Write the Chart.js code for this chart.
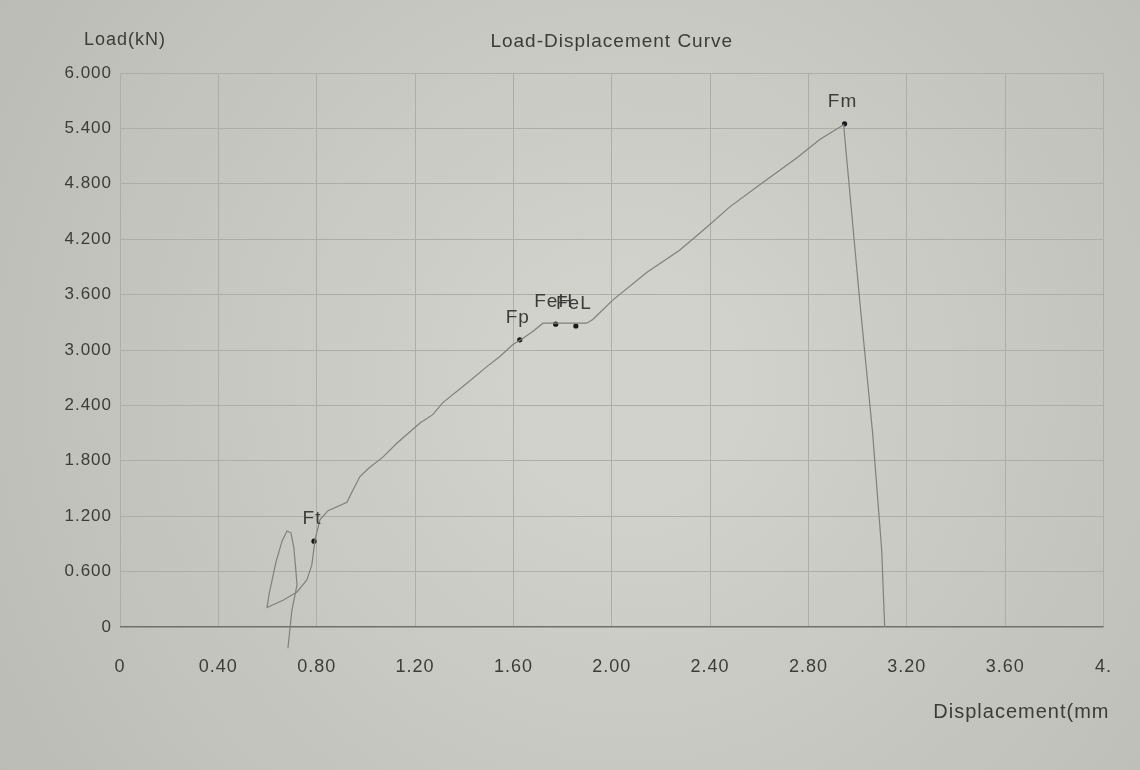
<!DOCTYPE html>
<html>
<head>
<meta charset="utf-8">
<script src="https://cdn.jsdelivr.net/npm/chart.js@4"></script>
<style>
  html, body { margin: 0; padding: 0; background: #cbccc6; }
  #wrap { width: 1140px; height: 770px; }
</style>
</head>
<body>
<div id="wrap"><canvas id="myChart" width="1140" height="770"></canvas></div>
<script>
// curve (mm, kN)
const displacement = [0.683, 0.699, 0.720, 0.715, 0.707, 0.695, 0.679, 0.659, 0.634, 0.606, 0.598, 0.663, 0.720, 0.760, 0.780, 0.793,
    0.813, 0.846, 0.923, 0.947, 0.976, 1.016, 1.069, 1.126, 1.220, 1.272, 1.313, 1.411, 1.492, 1.545, 1.598, 1.630,
    1.679, 1.720, 1.898, 1.923, 2.004, 2.142, 2.276, 2.386, 2.480, 2.602, 2.752, 2.846, 2.943, 3.008, 3.061, 3.098, 3.110];
const load = [-0.23, 0.18, 0.455, 0.62, 0.86, 1.02, 1.04, 0.93, 0.70, 0.35, 0.21, 0.29, 0.38, 0.51, 0.67, 0.94,
    1.16, 1.26, 1.35, 1.48, 1.63, 1.73, 1.84, 1.99, 2.21, 2.30, 2.43, 2.64, 2.82, 2.93, 3.06, 3.11,
    3.20, 3.29, 3.29, 3.33, 3.54, 3.84, 4.08, 4.33, 4.55, 4.79, 5.08, 5.28, 5.44, 3.55, 2.10, 0.83, 0.0];

// marked points
const markerNames = ["Ft", "Fp", "FeH", "FeL", "Fm"];
const markerX = [0.789, 1.626, 1.772, 1.854, 2.947];
const markerY = [0.93, 3.11, 3.28, 3.26, 5.45];

// tick labels as printed
const xTickLabels = ["0", "0.40", "0.80", "1.20", "1.60", "2.00", "2.40", "2.80", "3.20", "3.60", "4."];
const yTickLabels = ["0", "0.600", "1.200", "1.800", "2.400", "3.000", "3.600", "4.200", "4.800", "5.400", "6.000"];

const chartTitle = "Load-Displacement Curve";
const yAxisTitle = "Load(kN)";
const xAxisTitle = "Displacement(mm";

const FONT = "'Liberation Sans', Arial, sans-serif";
const INK = "#3c3c3a";

const curvePoints = displacement.map((d, i) => ({ x: d, y: load[i] }));
const markerPoints = markerX.map((d, i) => ({ x: d, y: markerY[i] }));

// paper background, wider printed lettering
const paperPlugin = {
    id: "paper",
    beforeDraw(chart) {
        const c = chart.ctx;
        const w = chart.width, h = chart.height;
        const g = c.createRadialGradient(w * 0.55, h * 0.5, 100, w * 0.55, h * 0.5, 760);
        g.addColorStop(0, "#d1d2cc");
        g.addColorStop(1, "#babbb4");
        c.save();
        c.fillStyle = g;
        c.fillRect(0, 0, w, h);
        c.restore();
        c.letterSpacing = "1px";
    }
};

// titles and point labels
const textPlugin = {
    id: "texts",
    afterDraw(chart) {
        const c = chart.ctx;
        const area = chart.chartArea;
        const xs = chart.scales.x, ys = chart.scales.y;
        c.save();
        c.letterSpacing = "1px";
        c.fillStyle = INK;
        c.textBaseline = "middle";

        c.font = "19px " + FONT;
        c.textAlign = "center";
        c.fillText(chartTitle, (area.left + area.right) / 2, 42);
        c.font = "18px " + FONT;
        c.fillText(yAxisTitle, area.left + 5, 40);
        c.textAlign = "right";
        c.font = "20px " + FONT;
        c.fillText(xAxisTitle, area.right + 6, 712);

        c.font = "19px " + FONT;
        c.textAlign = "center";
        markerNames.forEach((name, i) => {
            const px = xs.getPixelForValue(markerX[i]);
            const py = ys.getPixelForValue(markerY[i]);
            c.fillText(name, px - 2, py - 22);
        });
        c.restore();
    }
};

var ctx = document.getElementById("myChart").getContext("2d");
var myChart = new Chart(ctx, {
    type: "scatter",
    data: {
        datasets: [{
            label: "curve",
            data: curvePoints,
            showLine: true,
            borderColor: "#80807d",
            borderWidth: 1.2,
            pointRadius: 0,
            tension: 0,
            clip: false
        }, {
            label: "points",
            data: markerPoints,
            showLine: false,
            pointRadius: 2.6,
            pointBackgroundColor: "#1a1a1a",
            pointBorderWidth: 0
        }]
    },
    plugins: [paperPlugin, textPlugin],
    options: {
        responsive: false,
        animation: false,
        layout: { padding: { top: 73, left: 0, right: 35, bottom: 0 } },
        plugins: {
            legend: { display: false },
            tooltip: { enabled: false },
            title: { display: false }
        },
        scales: {
            x: {
                type: "linear",
                min: 0,
                max: 4,
                afterFit(scale) { scale.height = 143; },
                afterBuildTicks(scale) {
                    scale.ticks = xTickLabels.map((t, i) => ({ value: i * 0.4 }));
                },
                ticks: {
                    padding: 29,
                    color: INK,
                    font: { family: FONT, size: 18 },
                    maxRotation: 0,
                    autoSkip: false,
                    callback: (v, i) => xTickLabels[i]
                },
                grid: { color: "#adaea8", lineWidth: 1, drawTicks: false },
                border: { display: false }
            },
            y: {
                type: "linear",
                min: 0,
                max: 6,
                afterFit(scale) { scale.width = 120; },
                afterBuildTicks(scale) {
                    scale.ticks = yTickLabels.map((t, i) => ({ value: i * 0.6 }));
                },
                ticks: {
                    padding: 8,
                    color: INK,
                    font: { family: FONT, size: 17 },
                    autoSkip: false,
                    callback: (v, i) => yTickLabels[i]
                },
                grid: {
                    color: (c) => (c.tick && c.tick.value === 0 ? "#6f706c" : "#adaea8"),
                    lineWidth: (c) => (c.tick && c.tick.value === 0 ? 1.4 : 1),
                    drawTicks: false
                },
                border: { display: false }
            }
        }
    }
});
</script>
</body>
</html>
